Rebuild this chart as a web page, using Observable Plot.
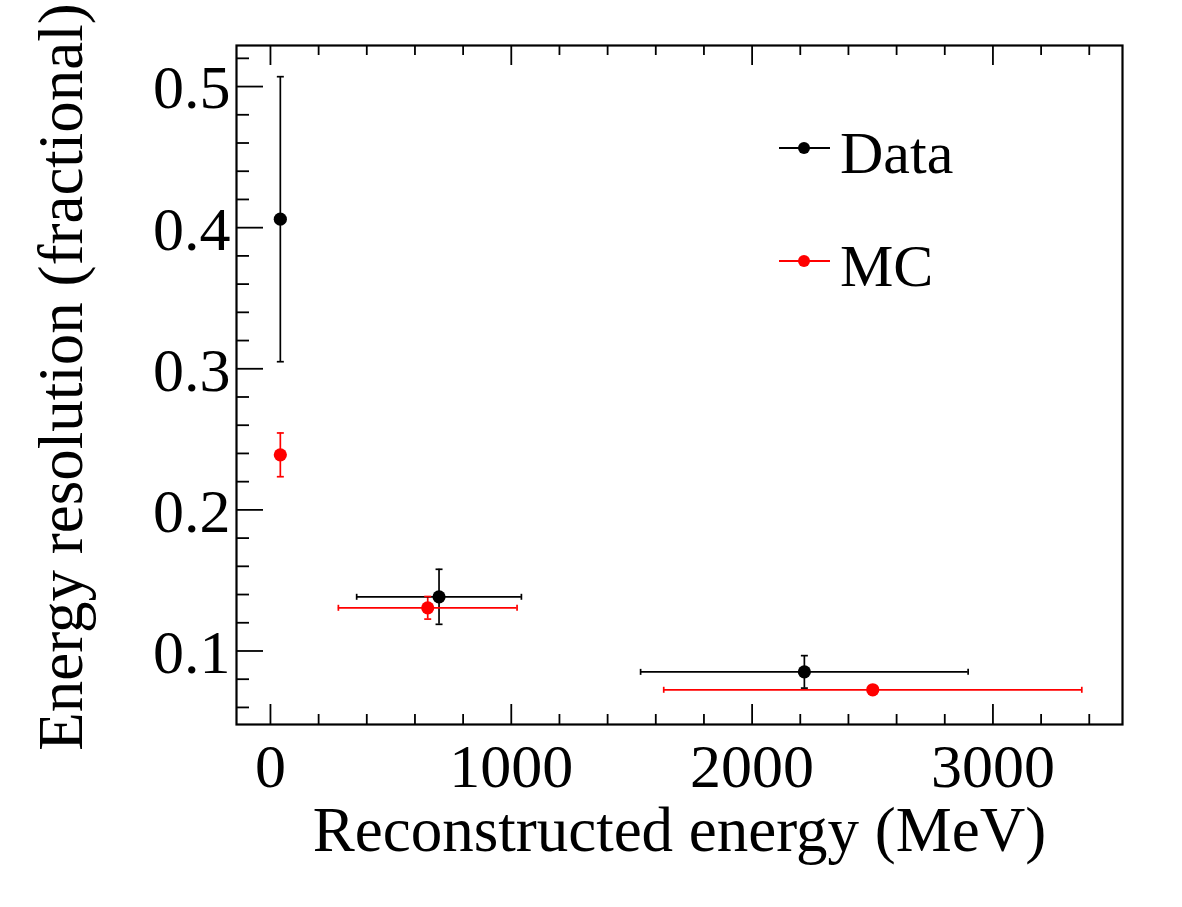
<!DOCTYPE html>
<html>
<head>
<meta charset="utf-8">
<script src="https://cdn.jsdelivr.net/npm/d3@7"></script>
<script src="https://cdn.jsdelivr.net/npm/@observablehq/plot@0.6"></script>
<style>
  html, body { margin: 0; padding: 0; background: #fff; }
  #wrap { position: relative; width: 1182px; height: 907px; font-family: "Liberation Serif", "DejaVu Serif", serif; }
  .legend-row { position: absolute; left: 779px; height: 60px; }
  .legend-row svg { position: absolute; left: 0; overflow: visible; }
  .legend-row span { position: absolute; left: 61px; font-size: 60px; line-height: 1; white-space: nowrap; }
</style>
</head>
<body>
<div id="wrap"></div>
<script>
// Energy resolution vs reconstructed energy, data and simulation
const energyData = [41, 700, 2217];
const energyErrData = [0, 342, 680];
const resolutionData = [0.406, 0.1384, 0.0852];
const resolutionErrData = [0.101, 0.0195, 0.0115];

const energyMC = [41, 653, 2501];
const energyErrMC = [0, 371, 868];
const resolutionMC = [0.239, 0.1306, 0.0725];
const resolutionErrMC = [0.0155, 0.008, 0];

const seriesNames = ["Data", "MC"];
const seriesColors = ["#000000", "#ff0000"];

const xMajorTicks = [0, 1000, 2000, 3000];
const xMinorTicks = [200, 400, 600, 800, 1200, 1400, 1600, 1800, 2200, 2400, 2600, 2800, 3200, 3400];
const yMajorTicks = [0.1, 0.2, 0.3, 0.4, 0.5];
const yMinorTicks = [0.06, 0.08, 0.12, 0.14, 0.16, 0.18, 0.22, 0.24, 0.26, 0.28, 0.32, 0.34, 0.36, 0.38, 0.42, 0.44, 0.46, 0.48, 0.52];

const xTitle = "Reconstructed energy (MeV)";
const yTitle = "Energy resolution (fractional)";

function rows(name, color, xs, xe, ys, ye) {
  return xs.map((x, i) => ({series: name, color, x, xErr: xe[i], y: ys[i], yErr: ye[i]}));
}
const points = [
  ...rows(seriesNames[0], seriesColors[0], energyData, energyErrData, resolutionData, resolutionErrData),
  ...rows(seriesNames[1], seriesColors[1], energyMC, energyErrMC, resolutionMC, resolutionErrMC)
];

// short line symbols used as error-bar end caps
const capH = {draw(ctx, size) { const h = Math.sqrt(size / Math.PI); ctx.moveTo(-h, 0); ctx.lineTo(h, 0); }};
const capV = {draw(ctx, size) { const h = Math.sqrt(size / Math.PI); ctx.moveTo(0, -h); ctx.lineTo(0, h); }};

const W = 1182, H = 907;
const mL = 236, mR = 60, mT = 45, mB = 183;
const frameH = H - mT - mB, frameW = W - mL - mR;

const yErrRows = points.filter(d => d.yErr > 0);
const xErrRows = points.filter(d => d.xErr > 0);

const errW = 1.7;

const chart = Plot.plot({
  width: W, height: H,
  marginLeft: mL, marginRight: mR, marginTop: mT, marginBottom: mB,
  x: {domain: [-141, 3538], label: null},
  y: {domain: [0.0479, 0.5291], label: null},
  style: {fontFamily: "'Liberation Serif', 'DejaVu Serif', serif", background: "white", color: "black", overflow: "visible"},
  marks: [
    // inward ticks: bottom and top edges
    Plot.tickX(xMajorTicks, {x: d => d, insetTop: frameH - 20, stroke: "black", strokeWidth: 1.8}),
    Plot.tickX(xMinorTicks, {x: d => d, insetTop: frameH - 10, stroke: "black", strokeWidth: 1.8}),
    Plot.tickX(xMajorTicks, {x: d => d, insetBottom: frameH - 20, stroke: "black", strokeWidth: 1.8}),
    Plot.tickX(xMinorTicks, {x: d => d, insetBottom: frameH - 10, stroke: "black", strokeWidth: 1.8}),
    // inward ticks: left edge
    Plot.tickY(yMajorTicks, {y: d => d, insetRight: frameW - 27, stroke: "black", strokeWidth: 1.8}),
    Plot.tickY(yMinorTicks, {y: d => d, insetRight: frameW - 13, stroke: "black", strokeWidth: 1.8}),
    Plot.axisX(xMajorTicks, {tickSize: 0, tickPadding: 18, fontSize: 62, tickFormat: d => String(d), label: null}),
    Plot.axisY(yMajorTicks, {tickSize: 0, tickPadding: 6, fontSize: 62, tickFormat: d => d.toFixed(1), label: null, dy: 2}),
    Plot.frame({stroke: "black", strokeWidth: 2.2}),
    // error bars
    Plot.ruleX(yErrRows, {x: "x", y1: d => d.y - d.yErr, y2: d => d.y + d.yErr, stroke: "color", strokeWidth: errW}),
    Plot.ruleY(xErrRows, {y: "y", x1: d => d.x - d.xErr, x2: d => d.x + d.xErr, stroke: "color", strokeWidth: errW}),
    Plot.dot(yErrRows, {x: "x", y: d => d.y + d.yErr, symbol: capH, r: 3.5, fill: "none", stroke: "color", strokeWidth: errW}),
    Plot.dot(yErrRows, {x: "x", y: d => d.y - d.yErr, symbol: capH, r: 3.5, fill: "none", stroke: "color", strokeWidth: errW}),
    Plot.dot(xErrRows, {x: d => d.x - d.xErr, y: "y", symbol: capV, r: 3, fill: "none", stroke: "color", strokeWidth: errW}),
    Plot.dot(xErrRows, {x: d => d.x + d.xErr, y: "y", symbol: capV, r: 3, fill: "none", stroke: "color", strokeWidth: errW}),
    // markers
    Plot.dot(points, {x: "x", y: "y", r: 6.6, fill: "color", stroke: "none"}),
    // axis titles
    Plot.text([xTitle], {text: d => d, frameAnchor: "bottom", lineAnchor: "bottom", dy: 126, fontSize: 63, fill: "black"}),
    Plot.text([yTitle], {text: d => d, frameAnchor: "left", rotate: -90, lineAnchor: "bottom", textAnchor: "middle", dx: -155, dy: -8, fontSize: 63, fill: "black"})
  ]
});

const wrap = document.getElementById("wrap");
wrap.appendChild(chart);

// legend inside the frame, upper right
const legendTops = [118, 231];
seriesNames.forEach((name, i) => {
  const row = document.createElement("div");
  row.className = "legend-row";
  row.style.top = legendTops[i] + "px";
  row.innerHTML =
    `<svg width="52" height="60"><line x1="0" x2="51" y1="30" y2="30" stroke="${seriesColors[i]}" stroke-width="1.8"/>` +
    `<circle cx="25" cy="30" r="6" fill="${seriesColors[i]}"/></svg>` +
    `<span style="top:5px">${name}</span>`;
  wrap.appendChild(row);
});
</script>
</body>
</html>
